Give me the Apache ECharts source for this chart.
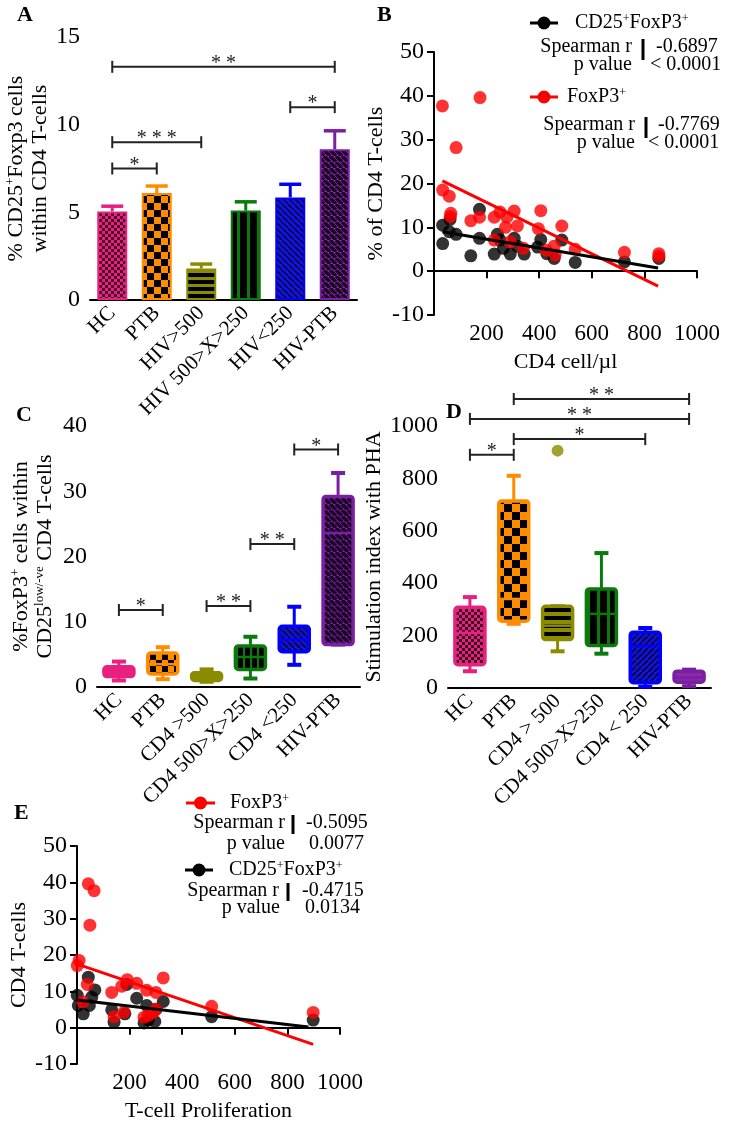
<!DOCTYPE html>
<html><head><meta charset="utf-8">
<script src="https://cdn.jsdelivr.net/npm/echarts@6/dist/echarts.min.js"></script>
<style>html,body{margin:0;padding:0;background:#fff}#c{width:730px;height:1123px}</style>
</head><body><div id="c"></div>
<script>
// ---------------- DATA ----------------
const catsA = ['HC', 'PTB', 'HIV>500', 'HIV 500>X>250', 'HIV<250', 'HIV-PTB'];
const meanA = [5.05, 6.1, 1.8, 5.1, 5.85, 8.6];
const semA = [0.3, 0.4, 0.25, 0.5, 0.75, 1.05];
const sigA = [[0, 5, 13.3, '**'], [4, 5, 11.0, '*'], [0, 2, 9.0, '***'], [0, 1, 7.5, '*']];

const bCD25FoxP3 = [[33,10.5],[33,6.3],[61,11.8],[58,9.0],[84,8.4],[140,3.5],[173,14.1],[173,7.5],[229,3.9],[241,8.4],[251,7.1],[264,5.2],[290,3.9],[305,7.5],[317,5.7],[343,3.9],[394,5.5],[406,7.2],[429,4.0],[457,2.9],[486,7.1],[537,2.0],[724,2.1],[855,2.9]];
const bFoxP3 = [[32,37.7],[175,39.6],[84,28.2],[33,18.5],[58,17.1],[64,13.2],[62,12.5],[140,11.5],[173,12.3],[229,12.3],[251,13.5],[277,12.3],[272,10.0],[305,13.7],[317,10.3],[229,7.1],[290,6.7],[340,5.2],[397,9.7],[406,13.8],[427,4.8],[457,5.7],[461,3.7],[486,10.3],[537,5.0],[724,4.3],[855,4.0],[855,3.4]];
const bFitFoxP3 = [[32, 20.6], [852, -3.4]];
const bFitCD25 = [[32, 9.0], [852, 0.7]];
const bStats = [['-0.6897', '< 0.0001'], ['-0.7769', '< 0.0001']];

const catsC = ['HC', 'PTB', 'CD4 >500', 'CD4 500>X>250', 'CD4 <250', 'HIV-PTB'];
// [min, q1, median, q3, max]
const boxC = [[1.0,1.6,2.3,3.1,3.9],[1.2,2.0,3.5,5.2,6.1],[0.8,1.0,1.6,2.2,2.7],[1.3,2.7,4.6,6.3,7.7],[3.4,5.4,7.3,9.3,12.3],[6.5,6.5,23.6,29.2,32.8]];
const sigC = [[0, 1, 11.8, '*'], [2, 3, 12.4, '**'], [3, 4, 21.9, '**'], [4, 5, 36.4, '*']];

const catsD = ['HC', 'PTB', 'CD4 > 500', 'CD4 500>X>250', 'CD4 < 250', 'HIV-PTB'];
const boxD = [[64,89,210,308,347],[245,255,340,714,810],[140,185,238,312,312],[131,162,283,378,515],[5,20,160,213,229],[7,22,40,64,70]];
const outlierD = [[2, 906]];
const sigD = [[1, 5, 1103, '**'], [0, 5, 1027, '**'], [1, 4, 950, '*'], [0, 1, 890, '*']];

const eFoxP3 = [[43,39.6],[65,37.7],[49,28.2],[8,18.5],[1,17.1],[39,11.9],[22,7.1],[132,9.7],[170,11.4],[191,13.2],[227,12.2],[265,10.3],[300,9.7],[328,13.7],[141,3.0],[179,4.3],[255,2.9],[271,3.4],[290,4.2],[300,5.1],[512,5.9],[898,4.2]];
const eCD25FoxP3 = [[1,8.9],[5,6.1],[24,3.8],[43,13.9],[47,6.1],[56,8.4],[68,10.4],[132,4.9],[141,1.5],[182,3.8],[189,11.9],[227,8.1],[265,6.1],[255,1.3],[271,2.1],[296,1.7],[300,5.1],[328,7.2],[512,3.0],[898,2.1]];
const eFitFoxP3 = [[1, 17.5], [898, -4.6]];
const eFitCD25 = [[1, 7.6], [880, 0.2]];
const eStats = [['-0.5095', '0.0077'], ['-0.4715', '0.0134']];

// ---------------- STYLES ----------------
const FONT = 'Liberation Serif';
const groupColors = ['#e8207f', '#ff8c00', '#8b8b00', '#0a7a0a', '#0000ff', '#7b1fa2'];

function mk(w, h, draw) {
  const c = document.createElement('canvas');
  c.width = w; c.height = h;
  const g = c.getContext('2d');
  draw(g, w, h);
  return { image: c, repeat: 'repeat' };
}
function checker(bg, fg, s) {
  return mk(2 * s, 2 * s, (g) => { g.fillStyle = bg; g.fillRect(0, 0, 2 * s, 2 * s); g.fillStyle = fg; g.fillRect(0, 0, s, s); g.fillRect(s, s, s, s); });
}
function hstripes(bg, fg, p, t) {
  return mk(4, p, (g) => { g.fillStyle = bg; g.fillRect(0, 0, 4, p); g.fillStyle = fg; g.fillRect(0, 0, 4, t); });
}
function vstripes(bg, fg, p, t) {
  return mk(p, 4, (g) => { g.fillStyle = bg; g.fillRect(0, 0, p, 4); g.fillStyle = fg; g.fillRect(0, 0, t, 4); });
}
function diag(bg, fg, p, t, back) {
  return mk(p, p, (g) => {
    g.fillStyle = bg; g.fillRect(0, 0, p, p);
    g.strokeStyle = fg; g.lineWidth = t; g.beginPath();
    for (let k = -p; k <= p; k += p) {
      if (back) { g.moveTo(k, 0); g.lineTo(k + p, p); }
      else { g.moveTo(k, p); g.lineTo(k + p, 0); }
    }
    g.stroke();
  });
}
const patsA = [
  checker('#e8207f', '#4a0a28', 3),
  checker('#ff8c00', '#000', 7),
  hstripes('#8b8b00', '#000', 7, 4),
  vstripes('#0a7a0a', '#000', 10, 7),
  diag('#1414f0', '#0a0a55', 6, 2, true),
  diag('#8a2aa8', '#1a0525', 6, 3.5, true)
];
const patsC = [
  hstripes('#e8207f', '#e8207f', 6, 1),
  checker('#ff8c00', '#000', 6),
  hstripes('#8b8b00', '#8b8b00', 6, 1),
  vstripes('#0a7a0a', '#000', 7, 5),
  diag('#1414f0', '#0a0a55', 6, 2.5, true),
  diag('#7b1fa2', '#1a0525', 6, 3.5, true)
];
const patsD = [
  checker('#e8207f', '#3a0a20', 3),
  checker('#ff8c00', '#000', 8),
  hstripes('#8b8b00', '#000', 8, 4),
  vstripes('#0a7a0a', '#000', 10, 7),
  diag('#1414f0', '#0a0a55', 6, 2.5, false),
  diag('#8a2aa8', '#8a2aa8', 6, 1, false)
];

// ---------------- HELPERS ----------------
function sigRender(arr) {
  return function (params, api) {
    const s = arr[params.dataIndex];
    const p1 = api.coord([s[0], s[2]]), p2 = api.coord([s[1], s[2]]);
    const t = 6, st = { stroke: '#222', lineWidth: 2 };
    return { type: 'group', children: [
      { type: 'line', shape: { x1: p1[0], y1: p1[1], x2: p2[0], y2: p2[1] }, style: st },
      { type: 'line', shape: { x1: p1[0], y1: p1[1] - t, x2: p1[0], y2: p1[1] + t }, style: st },
      { type: 'line', shape: { x1: p2[0], y1: p2[1] - t, x2: p2[0], y2: p2[1] + t }, style: st },
      { type: 'text', style: { text: s[3].split('').join(' '), x: (p1[0] + p2[0]) / 2, y: p1[1] - 3,
        align: 'center', textAlign: 'center', verticalAlign: 'middle', textVerticalAlign: 'middle',
        font: '20px "' + FONT + '"', fill: '#222' } }
    ] };
  };
}
function boxRender(arr, pats) {
  return function (params, api) {
    const i = params.dataIndex, b = arr[i], c = groupColors[i];
    const x = api.coord([i, 0])[0];
    const y = b.map(v => api.coord([i, v])[1]);
    const hw = 15, cw = 7;
    return { type: 'group', children: [
      { type: 'line', shape: { x1: x, y1: y[3], x2: x, y2: y[4] }, style: { stroke: c, lineWidth: 3 } },
      { type: 'line', shape: { x1: x, y1: y[1], x2: x, y2: y[0] }, style: { stroke: c, lineWidth: 3 } },
      { type: 'line', shape: { x1: x - cw, y1: y[4], x2: x + cw, y2: y[4] }, style: { stroke: c, lineWidth: 4 } },
      { type: 'line', shape: { x1: x - cw, y1: y[0], x2: x + cw, y2: y[0] }, style: { stroke: c, lineWidth: 4 } },
      { type: 'rect', shape: { x: x - hw, y: y[3], width: 2 * hw, height: y[1] - y[3], r: 3 }, style: { fill: pats[i], stroke: c, lineWidth: 3.5 } },
      { type: 'line', shape: { x1: x - hw, y1: y[2], x2: x + hw, y2: y[2] }, style: { stroke: c, lineWidth: 2.5 } }
    ] };
  };
}
function errRender(params, api) {
  const i = params.dataIndex, c = groupColors[i];
  const p0 = api.coord([i, meanA[i]]), p1 = api.coord([i, meanA[i] + semA[i]]);
  return { type: 'group', children: [
    { type: 'line', shape: { x1: p0[0], y1: p0[1], x2: p1[0], y2: p1[1] }, style: { stroke: c, lineWidth: 3 } },
    { type: 'line', shape: { x1: p1[0] - 11, y1: p1[1], x2: p1[0] + 11, y2: p1[1] }, style: { stroke: c, lineWidth: 3.5 } }
  ] };
}
const axisLine = { lineStyle: { color: '#000', width: 2 } };
const axisTick = { length: 7, lineStyle: { color: '#000', width: 2 } };
function catX(idx, cats) {
  return { gridIndex: idx, type: 'category', data: cats, axisLine, axisTick: Object.assign({ alignWithLabel: true }, axisTick),
    axisLabel: { rotate: 45, interval: 0, fontSize: 21, fontFamily: FONT, color: '#000', margin: 10 }, splitLine: { show: false } };
}
function valX(idx, name) {
  return { gridIndex: idx, type: 'value', min: 0, max: 1000, interval: 200, axisLine, axisTick,
    axisLabel: { fontSize: 23, fontFamily: FONT, color: '#000', margin: 7, formatter: v => v === 0 ? '' : String(v) },
    splitLine: { show: false }, name, nameLocation: 'middle', nameGap: 36,
    nameTextStyle: { fontSize: 22, fontFamily: FONT, color: '#000' } };
}
const richName = {
  a: { fontSize: 22, fontFamily: FONT, color: '#000', lineHeight: 24 },
  s: { fontSize: 13, fontFamily: FONT, color: '#000', verticalAlign: 'top', lineHeight: 24 }
};
function valY(idx, min, max, interval, name, gap, lh) {
  return { gridIndex: idx, type: 'value', min, max, interval, axisLine, axisTick,
    axisLabel: { fontSize: 24, fontFamily: FONT, color: '#000', margin: 10, formatter: v => String(v) }, splitLine: { show: false },
    name, nameLocation: 'middle', nameGap: gap,
    nameTextStyle: { fontSize: 22, fontFamily: FONT, color: '#000', lineHeight: lh || 24, rich: richName } };
}

// ---------------- LEGEND GRAPHICS ----------------
const txt = (text, x, y, align, extra) => ({ type: 'text', style: Object.assign({ text, x, y, align, textAlign: align,
  verticalAlign: 'middle', textVerticalAlign: 'middle', font: '20px "' + FONT + '"', fill: '#000',
  rich: { n: { fontSize: 20, fontFamily: FONT }, s: { fontSize: 12, fontFamily: FONT, verticalAlign: 'top' } } }, extra || {}) });
const sym = (x1, x2, y, col) => [
  { type: 'line', shape: { x1, y1: y, x2, y2: y }, style: { stroke: col, lineWidth: 3 } },
  { type: 'circle', shape: { cx: (x1 + x2) / 2, cy: y, r: 6.5 }, style: { fill: col } }
];
const bar = (x, y1, y2) => ({ type: 'rect', shape: { x: x - 1.5, y: y1, width: 3, height: y2 - y1 }, style: { fill: '#000' } });
const title = (t, x, y) => ({ type: 'text', style: { text: t, x, y, align: 'left', textAlign: 'left', verticalAlign: 'middle', textVerticalAlign: 'middle', font: 'bold 22px "' + FONT + '"', fill: '#000' } });

const graphics = [
  title('A', 17, 15), title('B', 377, 15), title('C', 16, 415), title('D', 446, 412), title('E', 14, 813),
  // B legend
  ...sym(530, 558, 23, '#000'),
  txt('{n|CD25}{s|+}{n|FoxP3}{s|+}', 575, 23, 'left'),
  txt('Spearman r', 632, 47, 'right'), bar(643, 39, 60), txt(bStats[0][0], 656, 47, 'left'),
  txt('p value', 632, 65, 'right'), txt(bStats[0][1], 650, 65, 'left'),
  ...sym(530, 558, 97, '#ff0000'),
  txt('{n|FoxP3}{s|+}', 567, 97, 'left'),
  txt('Spearman r', 635, 125, 'right'), bar(646, 117, 138), txt(bStats[1][0], 658, 125, 'left'),
  txt('p value', 635, 143, 'right'), txt(bStats[1][1], 648, 143, 'left'),
  // E legend
  ...sym(186, 215, 803, '#ff0000'),
  txt('{n|FoxP3}{s|+}', 230, 803, 'left'),
  txt('Spearman r', 285, 823, 'right'), bar(293, 815, 834), txt(eStats[0][0], 306, 823, 'left'),
  txt('p value', 285, 844, 'right'), txt(eStats[0][1], 309, 844, 'left'),
  ...sym(185, 213, 870, '#000'),
  txt('{n|CD25}{s|+}{n|FoxP3}{s|+}', 229, 870, 'left'),
  txt('Spearman r', 279, 891, 'right'), bar(288, 883, 901), txt(eStats[1][0], 302, 891, 'left'),
  txt('p value', 280, 908, 'right'), txt(eStats[1][1], 305, 908, 'left')
];

// ---------------- OPTION ----------------
const option = {
  backgroundColor: '#fff',
  animation: false,
  textStyle: { fontFamily: FONT },
  grid: [
    { left: 90, top: 37, width: 267, height: 263 },
    { left: 434, top: 52, width: 263, height: 263 },
    { left: 97, top: 426, width: 263, height: 261 },
    { left: 448, top: 426, width: 263, height: 262 },
    { left: 77, top: 846, width: 263, height: 262 }
  ],
  xAxis: [
    catX(0, catsA),
    valX(1, 'CD4 cell/µl'),
    catX(2, catsC),
    catX(3, catsD),
    valX(4, 'T-cell Proliferation')
  ],
  yAxis: [
    valY(0, 0, 15, 5, '{a|% CD25}{s|+}{a|Foxp3 cells}\n{a|within CD4 T-cells}', 30),
    valY(1, -10, 50, 10, '% of CD4 T-cells', 38),
    valY(2, 0, 40, 10, '{a|%FoxP3}{s|+}{a| cells within}\n{a|CD25}{s|low/-ve}{a| CD4 T-cells}', 40),
    valY(3, 0, 1000, 200, 'Stimulation index with PHA', 55),
    valY(4, -10, 50, 10, 'CD4 T-cells', 33)
  ],
  graphic: graphics,
  series: [
    // A
    { type: 'bar', xAxisIndex: 0, yAxisIndex: 0, barWidth: 30,
      data: meanA.map((v, i) => ({ value: v, itemStyle: { color: patsA[i], borderColor: groupColors[i], borderWidth: 2 } })) },
    { type: 'custom', xAxisIndex: 0, yAxisIndex: 0, renderItem: errRender,
      data: meanA.map((v, i) => [i, v + semA[i]]) },
    { type: 'custom', xAxisIndex: 0, yAxisIndex: 0, renderItem: sigRender(sigA), clip: false,
      data: sigA.map(s => [s[0], s[2]]) },
    // B
    { type: 'scatter', xAxisIndex: 1, yAxisIndex: 1, symbolSize: 13, itemStyle: { color: '#000' }, data: bCD25FoxP3 },
    { type: 'scatter', xAxisIndex: 1, yAxisIndex: 1, symbolSize: 13, itemStyle: { color: '#ff0000' }, data: bFoxP3 },
    { type: 'line', xAxisIndex: 1, yAxisIndex: 1, symbol: 'none', lineStyle: { color: '#ff0000', width: 3 }, data: bFitFoxP3 },
    { type: 'line', xAxisIndex: 1, yAxisIndex: 1, symbol: 'none', lineStyle: { color: '#000', width: 3 }, data: bFitCD25 },
    // C
    { type: 'custom', xAxisIndex: 2, yAxisIndex: 2, renderItem: boxRender(boxC, patsC),
      data: boxC.map((b, i) => [i, b[0], b[4]]), encode: { x: 0, y: [1, 2] } },
    { type: 'custom', xAxisIndex: 2, yAxisIndex: 2, renderItem: sigRender(sigC), clip: false,
      data: sigC.map(s => [s[0], s[2]]) },
    // D
    { type: 'custom', xAxisIndex: 3, yAxisIndex: 3, renderItem: boxRender(boxD, patsD),
      data: boxD.map((b, i) => [i, b[0], b[4]]), encode: { x: 0, y: [1, 2] } },
    { type: 'scatter', xAxisIndex: 3, yAxisIndex: 3, symbolSize: 12, itemStyle: { color: '#8b8b00' }, data: outlierD },
    { type: 'custom', xAxisIndex: 3, yAxisIndex: 3, renderItem: sigRender(sigD), clip: false,
      data: sigD.map(s => [s[0], 1000]) },
    // E
    { type: 'scatter', xAxisIndex: 4, yAxisIndex: 4, symbolSize: 13, itemStyle: { color: '#000' }, data: eCD25FoxP3 },
    { type: 'scatter', xAxisIndex: 4, yAxisIndex: 4, symbolSize: 13, itemStyle: { color: '#ff0000' }, data: eFoxP3 },
    { type: 'line', xAxisIndex: 4, yAxisIndex: 4, symbol: 'none', lineStyle: { color: '#ff0000', width: 3 }, data: eFitFoxP3 },
    { type: 'line', xAxisIndex: 4, yAxisIndex: 4, symbol: 'none', lineStyle: { color: '#000', width: 3 }, data: eFitCD25 }
  ]
};
const chart = echarts.init(document.getElementById('c'), null, { renderer: 'canvas' });
chart.setOption(option);
</script></body></html>
